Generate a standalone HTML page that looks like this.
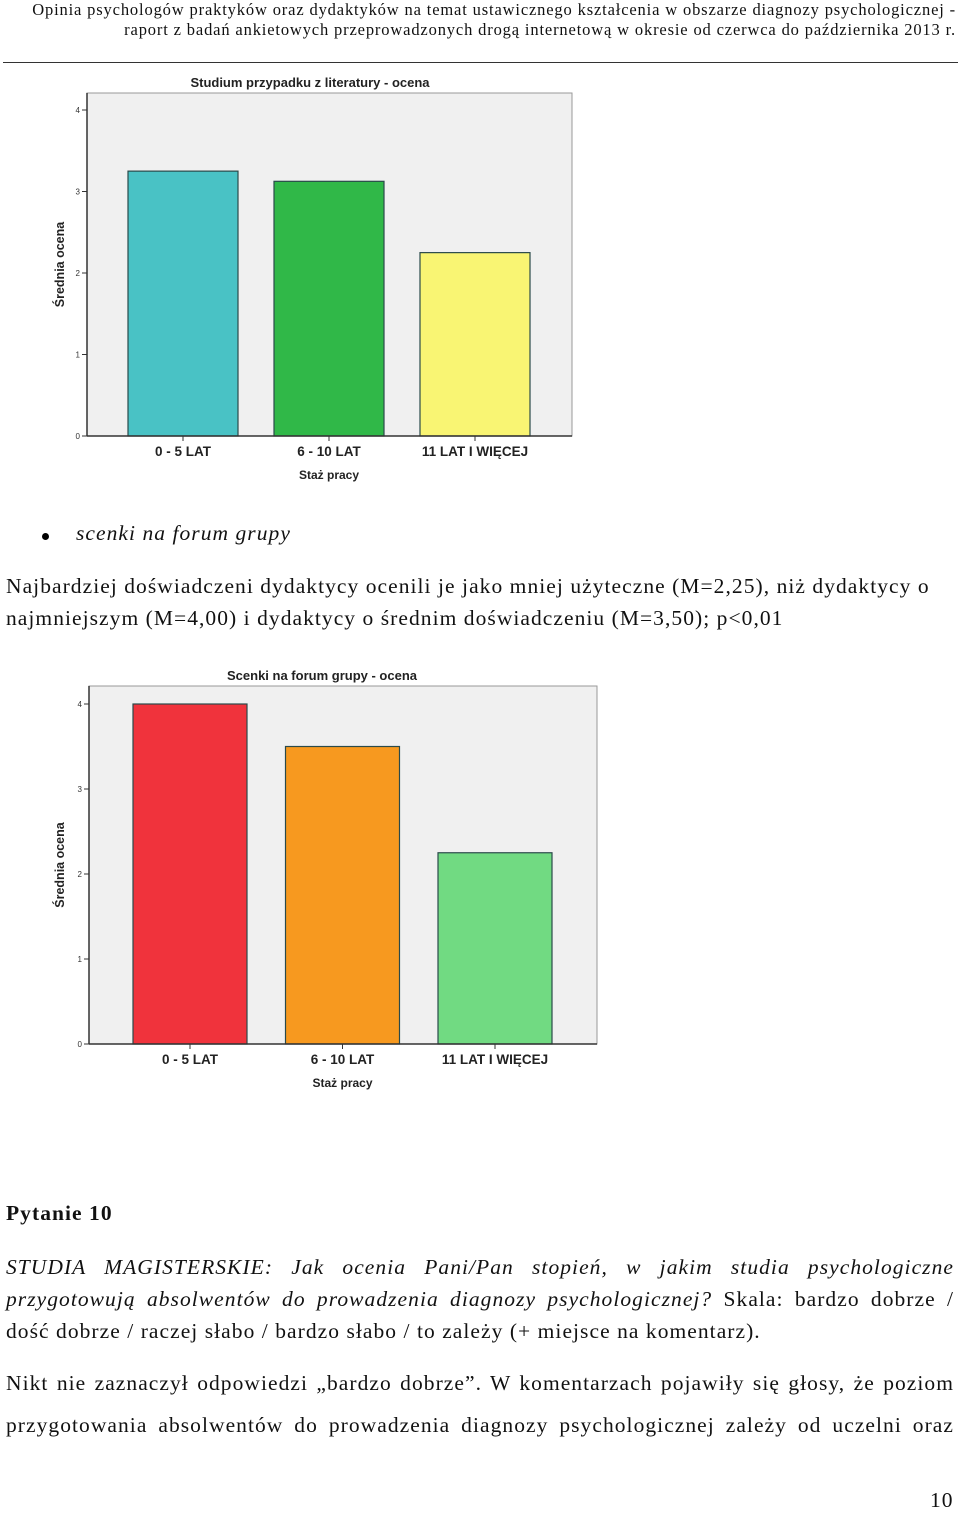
<!DOCTYPE html>
<html><head><meta charset="utf-8">
<style>
body{margin:0;width:960px;height:1512px;background:#fff;position:relative;overflow:hidden;font-family:"Liberation Serif",serif;color:#111}
.hdr{position:absolute;top:0;left:0;width:956px;text-align:right;font-size:16.5px;line-height:20px;letter-spacing:0.85px;white-space:nowrap}
.rule{position:absolute;top:62px;left:3px;width:955px;height:1px;background:#333}
.t{position:absolute;left:6px;font-size:21.5px;letter-spacing:1.05px;white-space:nowrap}
svg{position:absolute;left:0}
svg text{font-family:"Liberation Sans",sans-serif}
</style></head><body>
<div class="hdr">Opinia psychologów praktyków oraz dydaktyków na temat ustawicznego kształcenia w obszarze diagnozy psychologicznej -<br>raport z badań ankietowych przeprowadzonych drogą internetową w okresie od czerwca do października 2013 r.</div>
<div class="rule"></div>

<svg id="c1" width="960" height="500" style="top:0"></svg>

<div style="position:absolute;left:42px;top:533px;width:7px;height:7px;border-radius:50%;background:#000"></div>
<div class="t" style="left:76px;top:521px;font-style:italic">scenki na forum grupy</div>
<div class="t" style="top:570px;line-height:32px">Najbardziej doświadczeni dydaktycy ocenili je jako mniej użyteczne (M=2,25), niż dydaktycy o<br>najmniejszym (M=4,00) i dydaktycy o średnim doświadczeniu (M=3,50); p&lt;0,01</div>

<svg id="c2" width="960" height="1110" style="top:0"></svg>

<div class="t" style="top:1201px;font-weight:bold">Pytanie 10</div>
<div class="t" style="top:1251px;line-height:32px;width:948px;white-space:normal;text-align:justify;text-align-last:left"><i>STUDIA MAGISTERSKIE: Jak ocenia Pani/Pan stopień, w jakim studia psychologiczne przygotowują absolwentów do prowadzenia diagnozy psychologicznej?</i> Skala: bardzo dobrze / dość dobrze / raczej słabo / bardzo słabo / to zależy (+ miejsce na komentarz).</div>
<div class="t" style="top:1362px;line-height:42px;width:948px;white-space:normal;text-align:justify;text-align-last:justify">Nikt nie zaznaczył odpowiedzi „bardzo dobrze”. W komentarzach pojawiły się głosy, że poziom przygotowania absolwentów do prowadzenia diagnozy psychologicznej zależy od uczelni oraz</div>
<div class="t" style="left:930px;top:1488px">10</div>

<script>
const categories = ["0 - 5 LAT", "6 - 10 LAT", "11 LAT I WIĘCEJ"];
const values1 = [3.25, 3.125, 2.25];
const values2 = [4.0, 3.5, 2.25];
const ticks = [0, 1, 2, 3, 4];
const colors1 = ["#49c2c5", "#30b848", "#f9f573"];
const colors2 = ["#f0333c", "#f7991f", "#71da82"];
const NS = "http://www.w3.org/2000/svg";
function mk(svg, tag, attrs, txt){
  const e = document.createElementNS(NS, tag);
  for (const k in attrs) e.setAttribute(k, attrs[k]);
  if (txt !== undefined) e.textContent = txt;
  svg.appendChild(e); return e;
}
function chart(id, cfg, vals, cols, title){
  const svg = document.getElementById(id);
  const y = v => cfg.y0 - v * cfg.unit;
  const x = i => cfg.x0 + cfg.first + i * cfg.step;
  const r = mk(svg, "rect", {x:cfg.x0, y:cfg.top, width:cfg.x1-cfg.x0, height:cfg.y0-cfg.top, fill:"#f0f0f0", stroke:"#999"});
  
  
  const t = mk(svg, "text", {x:cfg.ttx, y:cfg.top-6, "text-anchor":"middle", "font-size":13, "font-weight":"bold", fill:"#222"}, title);
  
  
  ticks.forEach(v => {
    mk(svg, "line", {x1:cfg.x0-5, x2:cfg.x0, y1:y(v), y2:y(v), stroke:"#333"});
    const tl = mk(svg, "text", {x:cfg.x0-7, y:y(v)+3, "text-anchor":"end", "font-size":8, fill:"#333"}, v);
    
    
  });
  vals.forEach((v, i) => {
    const cx = x(i);
    const b = mk(svg, "rect", {x:cx-cfg.bw/2, y:y(v), width:cfg.bw, height:v*cfg.unit, fill:cols[i], stroke:"#2a4a4a", "stroke-width":1.2});
    
    
    mk(svg, "line", {x1:cx, x2:cx, y1:cfg.y0, y2:cfg.y0+5, stroke:"#333"});
    const xl = mk(svg, "text", {x:cx, y:cfg.y0+20, "text-anchor":"middle", "font-size":13.5, "font-weight":"bold", fill:"#222"}, categories[i]);
    
    
  });
  mk(svg, "line", {x1:cfg.x0, x2:cfg.x1, y1:cfg.y0, y2:cfg.y0, stroke:"#333", "stroke-width":1.5});
  mk(svg, "line", {x1:cfg.x0, x2:cfg.x0, y1:cfg.top, y2:cfg.y0, stroke:"#333", "stroke-width":1.5});
  const xt = mk(svg, "text", {x:x(1), y:cfg.y0+43, "text-anchor":"middle", "font-size":12, "font-weight":"bold", fill:"#222"}, "Staż pracy");
  
  
  const yc = (cfg.top + cfg.y0)/2;
  const yt = mk(svg, "text", {x:64, y:yc, transform:`rotate(-90 64 ${yc})`, "text-anchor":"middle", "font-size":12.5, "font-weight":"bold", fill:"#222"}, "Średnia ocena");
  
  
}
chart("c1", {x0:87, x1:572, top:93, y0:436, unit:81.5, bw:110, first:96, step:146, ttx:310}, values1, colors1, "Studium przypadku z literatury - ocena");
chart("c2", {x0:89, x1:597, top:686, y0:1044, unit:85, bw:114, first:101, step:152.5, ttx:322}, values2, colors2, "Scenki na forum grupy - ocena");
</script>
</body></html>
